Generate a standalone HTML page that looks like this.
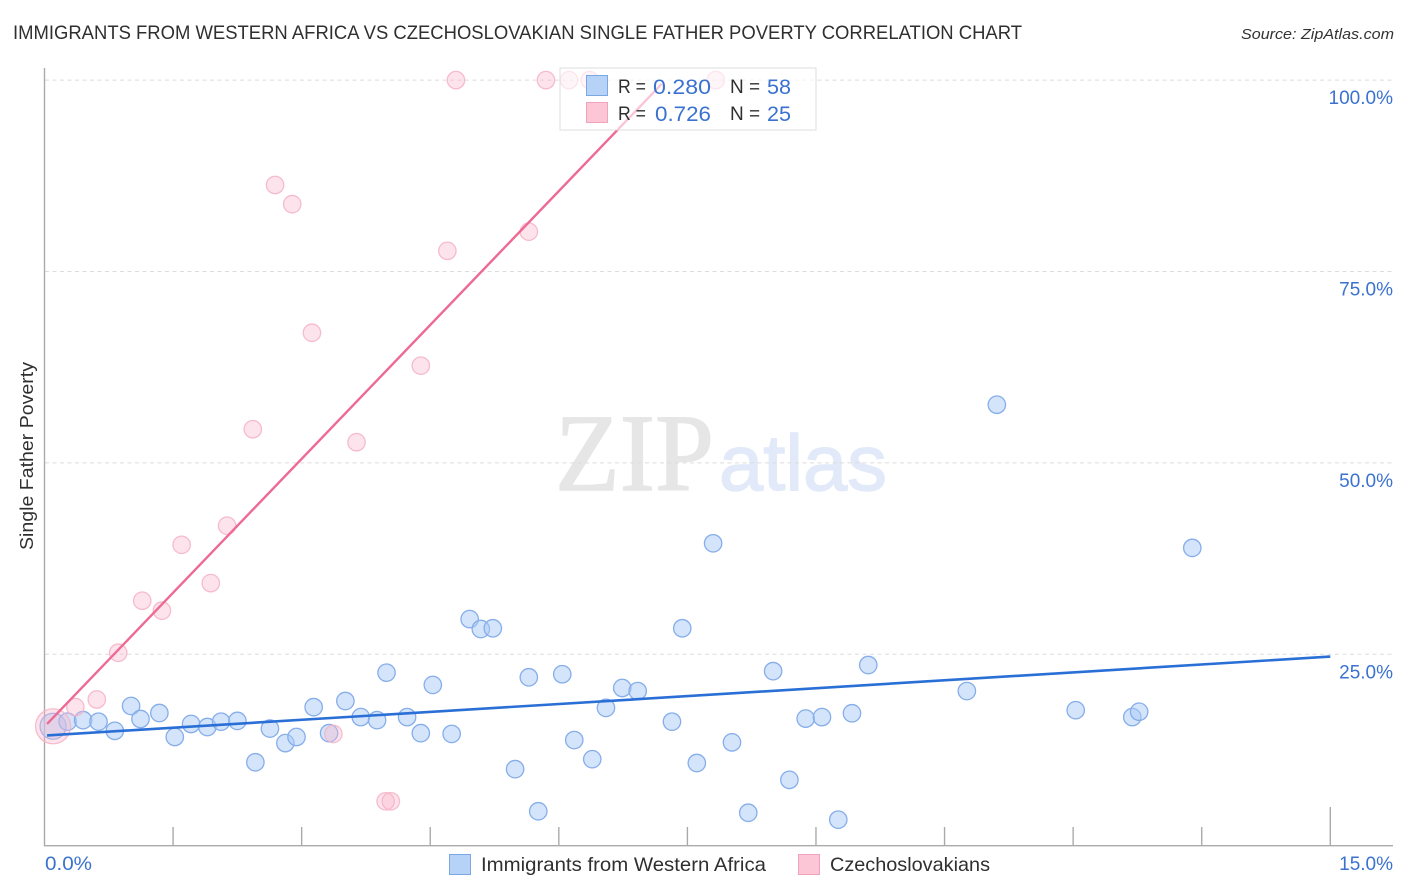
<!DOCTYPE html>
<html lang="en">
<head>
<meta charset="utf-8">
<title>Immigrants from Western Africa vs Czechoslovakian Single Father Poverty Correlation Chart</title>
<style>
html,body{margin:0;padding:0;background:#fff;width:1406px;height:892px;overflow:hidden}
svg{display:block;font-family:"Liberation Sans",sans-serif}
</style>
</head>
<body>
<svg id="chart" xmlns="http://www.w3.org/2000/svg" width="1406" height="892" viewBox="0 0 1406 892">
  <text x="13" y="39" font-size="19" fill="#2f2f2f" textLength="1009" lengthAdjust="spacingAndGlyphs">IMMIGRANTS FROM WESTERN AFRICA VS CZECHOSLOVAKIAN SINGLE FATHER POVERTY CORRELATION CHART</text>
  <text x="1241" y="39" font-size="15" font-style="italic" fill="#333" textLength="153" lengthAdjust="spacingAndGlyphs">Source: ZipAtlas.com</text>

  <g id="watermark">
    <text x="555" y="490" font-family="'Liberation Serif',serif" font-size="110" fill="#e6e6e6" stroke="#e6e6e6" stroke-width="1.4" textLength="159" lengthAdjust="spacingAndGlyphs">ZIP</text>
    <text x="719" y="490" font-size="79" fill="#e2eafa" stroke="#e2eafa" stroke-width="1.4" textLength="168" lengthAdjust="spacingAndGlyphs">atlas</text>
  </g>

  <g id="grid"></g>
  <g id="axes">
    <line x1="44.5" y1="68" x2="44.5" y2="846" stroke="#aaa" stroke-width="1.4"/>
    <line x1="44" y1="845.7" x2="1393" y2="845.7" stroke="#aaa" stroke-width="1.4"/>
  </g>
  <g id="xticks"></g>
  <g id="blue-points"></g>
  <g id="pink-points"></g>
  <g id="trend-lines"></g>
  <g id="ylabels"></g>

  <text transform="translate(33,456) rotate(-90)" text-anchor="middle" font-size="18.5" fill="#2f2f2f" textLength="188" lengthAdjust="spacingAndGlyphs">Single Father Poverty</text>
  <text x="45" y="870" font-size="19" fill="#3b72d0" textLength="47" lengthAdjust="spacingAndGlyphs">0.0%</text>
  <text x="1393" y="870" font-size="19" fill="#3b72d0" text-anchor="end">15.0%</text>

  <g>
    <rect x="560" y="68" width="256" height="62" fill="#fff" fill-opacity="0.62" stroke="#ddd" stroke-width="1"/>
    <rect x="586.5" y="75.5" width="21" height="20" fill="#b6d2f7" stroke="#7aa7e6"/>
    <rect x="586.5" y="102.5" width="21" height="20" fill="#fcc6d7" stroke="#f2a3bc"/>
    <text x="618" y="93" font-size="19" fill="#2f2f2f" textLength="28" lengthAdjust="spacingAndGlyphs">R =</text>
    <text x="653" y="94" font-size="21" fill="#3b72d0" textLength="58" lengthAdjust="spacingAndGlyphs">0.280</text>
    <text x="730" y="93" font-size="19" fill="#2f2f2f">N =</text>
    <text x="767" y="94" font-size="21" fill="#3b72d0" textLength="24" lengthAdjust="spacingAndGlyphs">58</text>
    <text x="618" y="120" font-size="19" fill="#2f2f2f" textLength="28" lengthAdjust="spacingAndGlyphs">R =</text>
    <text x="655" y="121" font-size="21" fill="#3b72d0" textLength="56" lengthAdjust="spacingAndGlyphs">0.726</text>
    <text x="730" y="120" font-size="19" fill="#2f2f2f">N =</text>
    <text x="767" y="121" font-size="21" fill="#3b72d0" textLength="24" lengthAdjust="spacingAndGlyphs">25</text>
  </g>

  <g>
    <rect x="449.5" y="854.5" width="21" height="20" fill="#b6d2f7" stroke="#7aa7e6"/>
    <text x="481" y="871" font-size="19.5" fill="#2f2f2f" textLength="285" lengthAdjust="spacingAndGlyphs">Immigrants from Western Africa</text>
    <rect x="798.5" y="854.5" width="21" height="20" fill="#fcc6d7" stroke="#f2a3bc"/>
    <text x="830" y="871" font-size="19.5" fill="#2f2f2f" textLength="160" lengthAdjust="spacingAndGlyphs">Czechoslovakians</text>
  </g>
</svg>
<script>
const yTickValues = [25, 50, 75, 100];
const yTickLabels = ["25.0%", "50.0%", "75.0%", "100.0%"];
const xTickValues = [1.5, 3, 4.5, 6, 7.5, 9, 10.5, 12, 13.5, 15];

const blueX = [0.10,0.27,0.45,0.63,0.82,1.01,1.12,1.34,1.52,1.71,1.90,2.06,2.25,2.46,2.63,2.81,2.94,3.14,3.32,3.51,3.69,3.88,3.99,4.23,4.39,4.53,4.75,4.96,5.09,5.23,5.49,5.65,5.76,6.04,6.18,6.39,6.55,6.74,6.92,7.32,7.44,7.61,7.80,8.02,8.21,8.50,8.69,8.88,9.07,9.26,9.42,9.61,10.76,11.11,12.03,12.69,12.77,13.39];
const blueY = [15.6,16.2,16.4,16.2,15.0,18.25,16.55,17.33,14.2,15.9,15.5,16.2,16.3,10.9,15.3,13.4,14.2,18.1,14.7,18.9,16.8,16.4,22.6,16.8,14.7,21.0,14.6,29.6,28.3,28.4,10.0,22.0,4.5,22.4,13.8,11.3,18.0,20.6,20.2,16.2,28.4,10.8,39.5,13.5,4.3,22.8,8.6,16.6,16.8,3.4,17.3,23.6,20.2,57.6,17.7,16.8,17.5,38.9];

const pinkX = [0.10,0.36,0.61,0.86,1.14,1.37,1.60,1.94,2.13,2.43,2.69,2.89,3.12,3.37,3.64,3.98,4.04,4.39,4.70,4.80,5.65,5.85,6.12,6.36,7.83];
const pinkY = [15.6,18.1,19.1,25.2,32.0,30.7,39.3,34.3,41.8,54.4,86.3,83.8,67.0,14.6,52.7,5.8,5.8,62.7,77.7,100,80.2,100,100,100,100];

const blueTrendX = [0.03, 15];
const blueTrendY = [14.4, 24.7];
const pinkTrendX = [0.03, 7.2];
const pinkTrendY = [15.9, 99.5];

const NS = 'http://www.w3.org/2000/svg';
function xScale(v) { return 44.5 + v * 85.72; }
function yScale(v) { return 845.7 - v * 7.656; }
function make(tag, parentId) {
  const el = document.createElementNS(NS, tag);
  document.getElementById(parentId).appendChild(el);
  return el;
}

yTickValues.forEach(function (v, i) {
  const g = make('line', 'grid');
  
  
  g.setAttribute('x1', 45);
  g.setAttribute('x2', 1393);
  g.setAttribute('y1', yScale(v));
  g.setAttribute('y2', yScale(v));
  g.setAttribute('stroke', '#dcdcdc');
  g.setAttribute('stroke-width', '1');
  g.setAttribute('stroke-dasharray', '4 3.5');
  const t = make('text', 'ylabels');
  
  
  t.setAttribute('x', 1393);
  t.setAttribute('y', yScale(v) + 24);
  t.setAttribute('text-anchor', 'end');
  t.setAttribute('font-size', '19');
  t.setAttribute('fill', '#3b72d0');
  t.textContent = yTickLabels[i];
});

xTickValues.forEach(function (v, i) {
  const t = make('line', 'xticks');
  
  
  t.setAttribute('x1', xScale(v));
  t.setAttribute('x2', xScale(v));
  t.setAttribute('y1', i === xTickValues.length - 1 ? 807 : 827);
  t.setAttribute('y2', 846);
  t.setAttribute('stroke', '#aaa');
  t.setAttribute('stroke-width', '1.4');
});

blueX.forEach(function (v, i) {
  const c = make('circle', 'blue-points');
  
  
  c.setAttribute('cx', xScale(v));
  c.setAttribute('cy', yScale(blueY[i]));
  c.setAttribute('r', i === 0 ? 13 : 8.7);
  c.setAttribute('fill', '#a9c9f5');
  c.setAttribute('fill-opacity', '0.5');
  c.setAttribute('stroke', '#86aeea');
  c.setAttribute('stroke-width', '1.3');
});

pinkX.forEach(function (v, i) {
  const c = make('circle', 'pink-points');
  
  
  c.setAttribute('cx', xScale(v));
  c.setAttribute('cy', yScale(pinkY[i]));
  c.setAttribute('r', i === 0 ? 17.5 : 8.7);
  c.setAttribute('fill', '#f9b9cd');
  c.setAttribute('fill-opacity', '0.38');
  c.setAttribute('stroke', '#f4b2c6');
  c.setAttribute('stroke-opacity', '0.85');
  c.setAttribute('stroke-width', '1.3');
});

const pinkLine = make('line', 'trend-lines');


pinkLine.setAttribute('x1', xScale(pinkTrendX[0]));
pinkLine.setAttribute('y1', yScale(pinkTrendY[0]));
pinkLine.setAttribute('x2', xScale(pinkTrendX[1]));
pinkLine.setAttribute('y2', yScale(pinkTrendY[1]));
pinkLine.setAttribute('stroke', '#ec6a94');
pinkLine.setAttribute('stroke-width', '2.4');

const blueLine = make('line', 'trend-lines');


blueLine.setAttribute('x1', xScale(blueTrendX[0]));
blueLine.setAttribute('y1', yScale(blueTrendY[0]));
blueLine.setAttribute('x2', xScale(blueTrendX[1]));
blueLine.setAttribute('y2', yScale(blueTrendY[1]));
blueLine.setAttribute('stroke', '#2a6fd6');
blueLine.setAttribute('stroke-width', '2.6');
</script>
</body>
</html>
